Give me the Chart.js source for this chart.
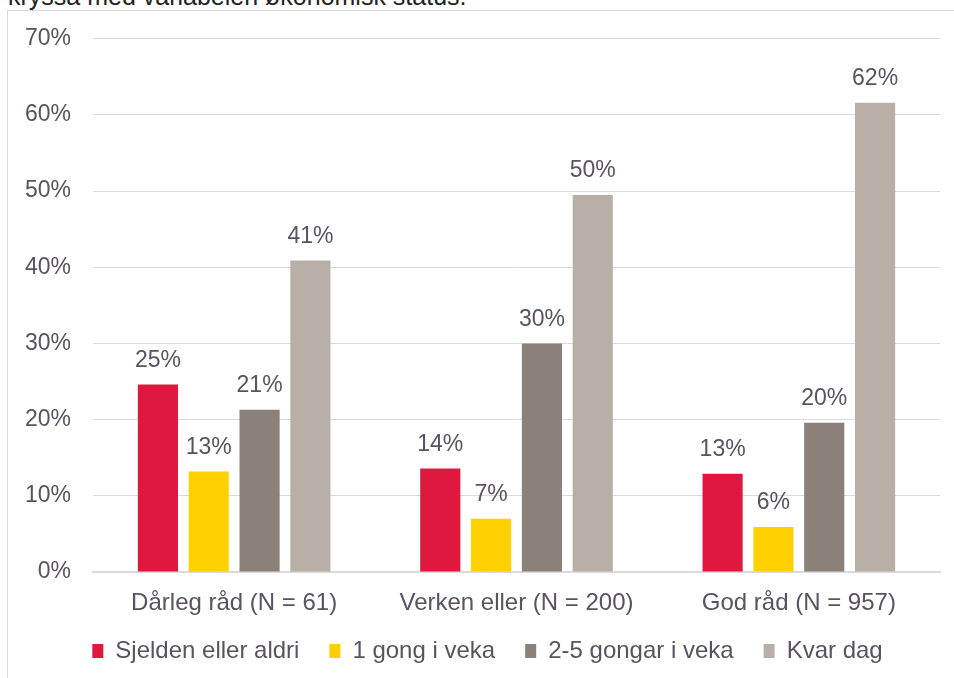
<!DOCTYPE html>
<html>
<head>
<meta charset="utf-8">
<script src="https://cdn.jsdelivr.net/npm/chart.js@4"></script>
<style>
    html, body { margin: 0; padding: 0; background: #fff; overflow: hidden; }
    #wrap { position: relative; width: 954px; height: 678px; overflow: hidden; }
    #frame { position: absolute; left: 7px; top: 10px; width: 980px; height: 690px;
             border-left: 1px solid #d9d9d9; border-top: 1px solid #d9d9d9; }
    #head { position: absolute; left: 8px; top: -18px; font: 25px "Liberation Sans", Arial, sans-serif;
            color: #222; white-space: nowrap; }
    #chart { position: absolute; left: 7px; top: 3px; }
</style>
</head>
<body>
<div id="wrap">
    <div id="head">kryssa med variabelen økonomisk status.</div>
    <div id="frame"></div>
    <canvas id="chart" width="971" height="680"></canvas>
</div>
<script>
const categories = ["Dårleg råd (N = 61)", "Verken eller (N = 200)", "God råd (N = 957)"];
const seriesNames = ["Sjelden eller aldri", "1 gong i veka", "2-5 gongar i veka", "Kvar dag"];
const seldenValues = [24.6, 13.6, 12.9];
const eingongValues = [13.2, 7.0, 5.9];
const fleireValues = [21.3, 30.0, 19.6];
const kvarDagValues = [40.9, 49.5, 61.6];
const seriesColors = ["#e0183f", "#ffd000", "#8b8178", "#b8afa6"];
const yTicks = [0, 10, 20, 30, 40, 50, 60, 70];

const textColor = "#595260";
const gridColor = "#dcd9dd";
const fontFamily = '"Liberation Sans", Arial, sans-serif';

// prosentetikettar over kvar søyle
const valueLabels = {
    id: "valueLabels",
    afterDatasetsDraw(chart) {
        const ctx = chart.ctx;
        ctx.save();
        ctx.font = "23px " + fontFamily;
        ctx.fillStyle = textColor;
        ctx.textAlign = "center";
        ctx.textBaseline = "middle";
        chart.data.datasets.forEach((ds, i) => {
            const meta = chart.getDatasetMeta(i);
            meta.data.forEach((bar, j) => {
                ctx.fillText(Math.round(ds.data[j]) + "%", bar.x, bar.y - 24);
            });
        });
        ctx.restore();
    }
};

// flytt forklaringa litt, slik som i originalen
const legendShift = {
    id: "legendShift",
    afterLayout(chart) {
        const lg = chart.legend;
        if (!lg) return;
        lg.left += 14;
        lg.right += 14;
        lg.top -= 10;
        lg.bottom -= 10;
    }
};

const allSeries = [seldenValues, eingongValues, fleireValues, kvarDagValues];

new Chart(document.getElementById("chart"), {
    type: "bar",
    data: {
        labels: categories,
        datasets: allSeries.map((vals, i) => ({
            label: seriesNames[i],
            data: vals,
            backgroundColor: seriesColors[i],
            categoryPercentage: 0.72,
            barPercentage: 0.79
        }))
    },
    options: {
        responsive: false,
        animation: false,
        layout: { padding: { top: 32, right: 38, left: 0, bottom: 0 } },
        plugins: {
            legend: {
                position: "bottom",
                labels: {
                    color: textColor,
                    font: { size: 24, family: fontFamily },
                    boxWidth: 11,
                    boxHeight: 14,
                    padding: 30
                }
            },
            tooltip: { enabled: false }
        },
        scales: {
            x: {
                grid: { display: false, drawTicks: false },
                border: { color: gridColor, width: 2 },
                ticks: { color: textColor, font: { size: 24, family: fontFamily }, padding: 17 },
                afterFit(scale) { scale.height = 47; }
            },
            y: {
                min: 0,
                max: 70,
                afterBuildTicks(scale) { scale.ticks = yTicks.map(v => ({ value: v })); },
                grid: { color: gridColor, drawTicks: false },
                border: { display: false },
                ticks: {
                    color: textColor,
                    font: { size: 23, family: fontFamily },
                    padding: 22,
                    callback: v => v + "%"
                },
                afterFit(scale) { scale.width = 86; }
            }
        }
    },
    plugins: [valueLabels, legendShift]
});
</script>
</body>
</html>
